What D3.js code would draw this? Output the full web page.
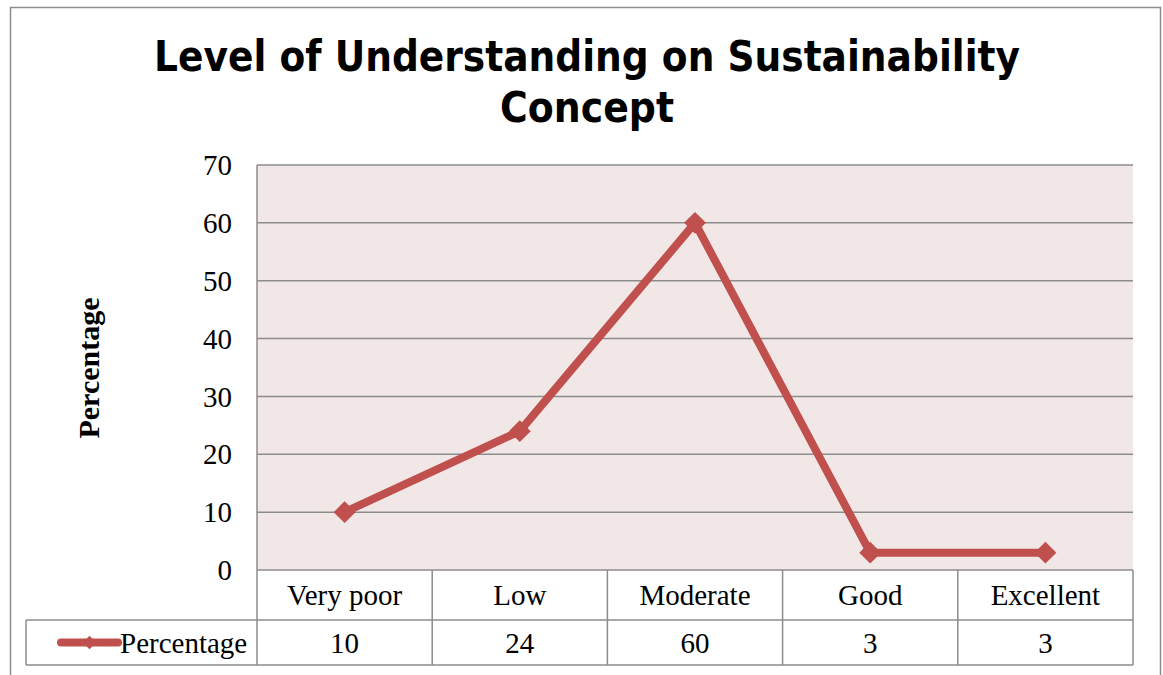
<!DOCTYPE html>
<html>
<head>
<meta charset="utf-8">
<script src="https://cdn.jsdelivr.net/npm/d3@7"></script>
<style>
  body { margin: 0; background: #fff; }
</style>
</head>
<body>
<div id="chart"></div>
<script>
// chart data
const categories = ["Very poor", "Low", "Moderate", "Good", "Excellent"];
const values = [10, 24, 60, 3, 3];
const yTicks = [0, 10, 20, 30, 40, 50, 60, 70];
const seriesName = "Percentage";

const W = 1163, H = 675;
const plot = {left: 257, right: 1133, top: 165, bottom: 570};
const rowH = 50, row2H = 45;
const legendLeft = 26;
const red = "#c0504d";
const serif = "'Liberation Serif', 'Times New Roman', serif";

const svg = d3.select("#chart")
  .append("svg")
  .attr("width", W)
  .attr("height", H);

// outer chart border
svg.append("rect")
  .attr("x", 10.5).attr("y", 7.5)
  .attr("width", 1150).attr("height", 700)
  .attr("fill", "#fff")
  .attr("stroke", "#8c8c8c")
  .attr("stroke-width", 1.5);

// title
const title = svg.append("text")
  .attr("text-anchor", "middle")
  .style("font-family", "'DejaVu Sans', Verdana, sans-serif")
  .style("font-weight", "bold")
  .style("font-size", "43px")
  .attr("fill", "#000");
title.append("tspan").attr("x", 587).attr("y", 71)
  .attr("textLength", 866).attr("lengthAdjust", "spacingAndGlyphs")
  .text("Level of Understanding on Sustainability");
title.append("tspan").attr("x", 587).attr("y", 122)
  .attr("textLength", 174).attr("lengthAdjust", "spacingAndGlyphs")
  .text("Concept");

// scales
const x = d3.scaleBand()
  .domain(categories)
  .range([plot.left, plot.right]);

const y = d3.scaleLinear()
  .domain([0, 70])
  .range([plot.bottom, plot.top]);

// plot background
svg.append("rect")
  .attr("x", plot.left).attr("y", plot.top)
  .attr("width", plot.right - plot.left)
  .attr("height", plot.bottom - plot.top)
  .attr("fill", "#f2e7e7");

// gridlines
svg.selectAll(".grid")
  .data(yTicks)
  .join("line")
  .attr("x1", plot.left).attr("x2", plot.right)
  .attr("y1", d => y(d)).attr("y2", d => y(d))
  .attr("stroke", "#8c8c8c")
  .attr("stroke-width", 1.5);

// y axis line
svg.append("line")
  .attr("x1", plot.left).attr("x2", plot.left)
  .attr("y1", plot.top).attr("y2", plot.bottom + rowH + row2H)
  .attr("stroke", "#8c8c8c")
  .attr("stroke-width", 1.5);

// y tick labels
svg.selectAll(".ytick")
  .data(yTicks)
  .join("text")
  .attr("x", 232)
  .attr("y", d => y(d))
  .attr("dy", "0.35em")
  .attr("text-anchor", "end")
  .style("font-family", serif)
  .style("font-size", "29px")
  .text(d => d);

// y axis title
svg.append("text")
  .attr("transform", "translate(99,368) rotate(-90)")
  .attr("text-anchor", "middle")
  .style("font-family", serif)
  .style("font-weight", "bold")
  .style("font-size", "30px")
  .text("Percentage");

// data table
const tbl = svg.append("g");
const t1 = plot.bottom, t2 = plot.bottom + rowH, t3 = plot.bottom + rowH + row2H;
const lineStyle = sel => sel.attr("stroke", "#8c8c8c").attr("stroke-width", 1.5);

tbl.append("line").attr("x1", legendLeft).attr("x2", plot.right).attr("y1", t2).attr("y2", t2).call(lineStyle);
tbl.append("line").attr("x1", legendLeft).attr("x2", plot.right).attr("y1", t3).attr("y2", t3).call(lineStyle);
tbl.append("line").attr("x1", legendLeft).attr("x2", legendLeft).attr("y1", t2).attr("y2", t3).call(lineStyle);
tbl.selectAll(".vcol")
  .data(categories)
  .join("line")
  .attr("x1", d => x(d) + x.bandwidth()).attr("x2", d => x(d) + x.bandwidth())
  .attr("y1", t1).attr("y2", t3)
  .call(lineStyle);

tbl.selectAll(".cat")
  .data(categories)
  .join("text")
  .attr("x", d => x(d) + x.bandwidth() / 2)
  .attr("y", (t1 + t2) / 2)
  .attr("dy", "0.35em")
  .attr("text-anchor", "middle")
  .style("font-family", serif)
  .style("font-size", "29px")
  .text(d => d);

tbl.selectAll(".val")
  .data(values)
  .join("text")
  .attr("x", (d, i) => x(categories[i]) + x.bandwidth() / 2)
  .attr("y", (t2 + t3) / 2)
  .attr("dy", "0.35em")
  .attr("text-anchor", "middle")
  .style("font-family", serif)
  .style("font-size", "29px")
  .text(d => d);

// legend key in table
const ly = (t2 + t3) / 2;
tbl.append("line")
  .attr("x1", 61).attr("x2", 118)
  .attr("y1", ly).attr("y2", ly)
  .attr("stroke", red).attr("stroke-width", 8)
  .attr("stroke-linecap", "round");
tbl.append("path")
  .attr("d", d3.symbol(d3.symbolSquare, 90)())
  .attr("transform", `translate(89.5,${ly}) rotate(45)`)
  .attr("fill", red);
tbl.append("text")
  .attr("x", 120)
  .attr("y", ly)
  .attr("dy", "0.35em")
  .style("font-family", serif)
  .style("font-size", "29px")
  .text(seriesName);

// series line
const line = d3.line()
  .x((d, i) => x(categories[i]) + x.bandwidth() / 2)
  .y(d => y(d));

svg.append("path")
  .datum(values)
  .attr("d", line)
  .attr("fill", "none")
  .attr("stroke", red)
  .attr("stroke-width", 8)
  .attr("stroke-linejoin", "miter");

svg.selectAll(".marker")
  .data(values)
  .join("path")
  .attr("d", d3.symbol(d3.symbolSquare, 240)())
  .attr("transform", (d, i) => `translate(${x(categories[i]) + x.bandwidth() / 2},${y(d)}) rotate(45)`)
  .attr("fill", red);
</script>
</body>
</html>
